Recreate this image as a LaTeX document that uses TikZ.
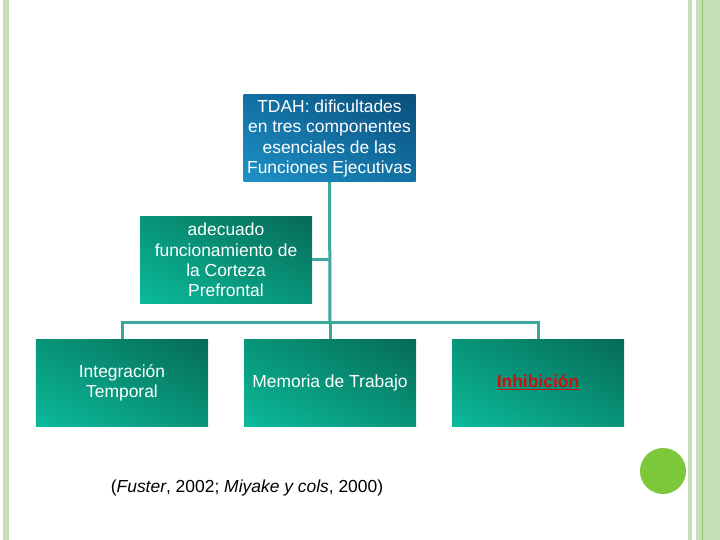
\documentclass[tikz,border=0pt]{standalone}
\usepackage{fontspec}
\setmainfont{Liberation Sans}
\usepackage{xcolor}
\usetikzlibrary{shadings}

\definecolor{framegreen}{HTML}{C5E0B4}
\definecolor{framedark}{HTML}{8CC47A}
\definecolor{dotgreen}{HTML}{7DC83A}
\definecolor{bluedark}{HTML}{0B4F7C}
\definecolor{bluemid}{HTML}{1270A3}
\definecolor{bluelight}{HTML}{1E92C8}
\definecolor{greendark}{HTML}{066A58}
\definecolor{greenmid}{HTML}{089478}
\definecolor{greenlight}{HTML}{0BBA9A}
\definecolor{linkteal}{HTML}{3AA89B}
\definecolor{inhibred}{HTML}{CC1010}

\begin{document}
\begin{tikzpicture}[x=1bp,y=-1bp,
    every node/.style={font=\fontsize{17.5}{20.3}\selectfont},
    orgbox/.style={shade, minimum width=172bp, minimum height=87bp,
        inner sep=0pt, align=center, text=white},
    bluebox/.style={orgbox, upper left=bluemid, upper right=bluedark,
        lower left=bluelight, lower right=bluemid},
    greenbox/.style={orgbox, upper left=greenmid, upper right=greendark,
        lower left=greenlight, lower right=greenmid},
    link/.style={draw=linkteal, line width=3bp}]

    \useasboundingbox (0,0) rectangle (720,540);

    % slide frame
    \fill[framegreen] (3,0) rectangle (9,540);
    \fill[framegreen] (688,0) rectangle (692,540);
    \fill[framegreen] (696,0) rectangle (720,540);
    \draw[framedark, line width=1bp] (702,0) -- (702,540);
    \draw[framedark!60, line width=1bp] (709,0) -- (709,540);
    \fill[dotgreen] (663,471) circle (23);

    % boxes
    \node[bluebox] (tdah) at (329.5,138.5)
        {TDAH: dificultades\\en tres componentes\\esenciales de las\\Funciones Ejecutivas};
    \node[greenbox] (pfc) at (226,260)
        {adecuado\\funcionamiento de\\la Corteza\\Prefrontal};
    \node[greenbox] (integ) at (122,382.5) {Integración\\Temporal};
    \node[greenbox] (memoria) at (330,382.5) {Memoria de Trabajo};
    \node[greenbox] (inhib) at (538,382.5)
        {\textcolor{inhibred}{\bfseries\underline{Inhibición}}};

    % connectors
    \coordinate (split) at (330,322);
    \draw[link] (tdah.south) -- (split);
    \draw[link] (pfc.east) -- (pfc.east -| split);
    \draw[link] (integ.north) |- (split) -| (inhib.north);
    \draw[link] (split) -- (memoria.north);

    % reference
    \node (cita) at (247,488) {(\textit{Fuster}, 2002; \textit{Miyake y cols}, 2000)};
\end{tikzpicture}
\end{document}
